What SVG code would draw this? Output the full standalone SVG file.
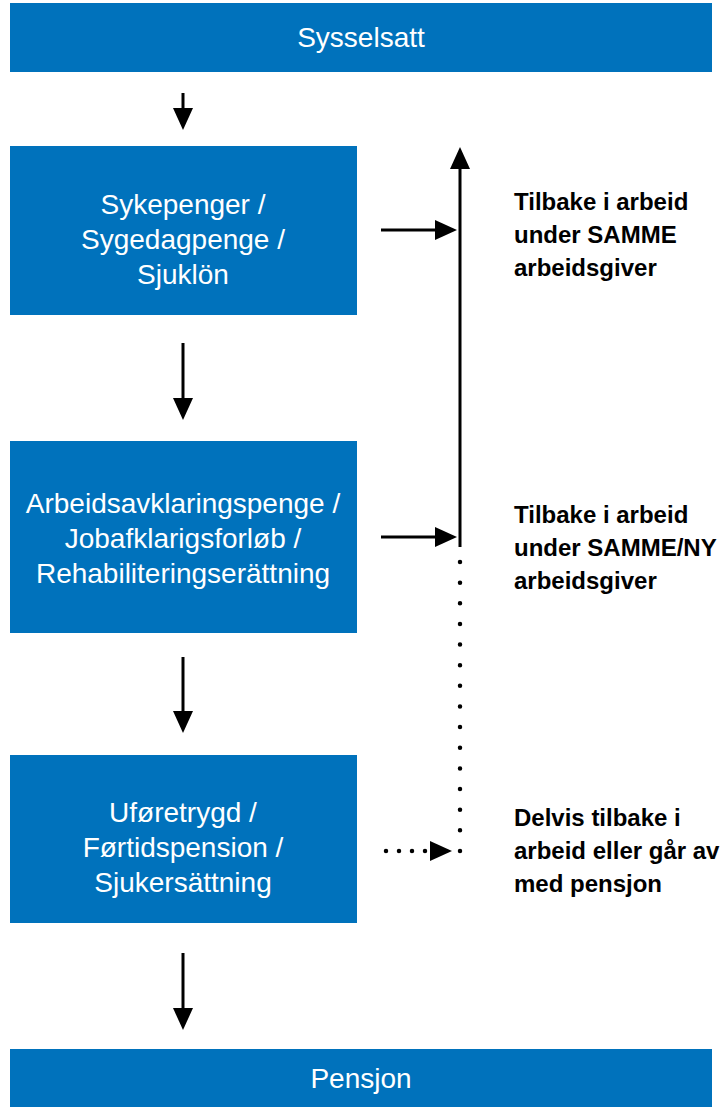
<svg xmlns="http://www.w3.org/2000/svg" width="723" height="1107" viewBox="0 0 723 1107">
<style>
.box{fill:#0072bc;}
.bt{font-family:"Liberation Sans",Arial,sans-serif;font-size:28px;fill:#ffffff;text-anchor:middle;}
.lt{font-family:"Liberation Sans",Arial,sans-serif;font-size:24px;font-weight:bold;fill:#000000;}
.ln{stroke:#000;stroke-width:3;fill:none;}
.dot{stroke:#000;stroke-width:4.5;stroke-linecap:round;fill:none;}
</style>
<defs>
<marker id="ah" viewBox="0 0 22 20" refX="14" refY="10" markerWidth="22" markerHeight="20" markerUnits="userSpaceOnUse" orient="auto">
<path d="M0,0 L22,10 L0,20 Z" fill="#000"/>
</marker>
</defs>
<g id="sysselsatt"><rect class="box" x="10" y="3" width="702" height="69"/><text class="bt" x="361" y="47">Sysselsatt</text></g>
<g id="sykepenger"><rect class="box" x="10" y="146" width="347" height="169"/><text class="bt" x="183" y="214">Sykepenger /</text><text class="bt" x="183" y="249">Sygedagpenge /</text><text class="bt" x="183" y="284">Sjuklön</text></g>
<g id="arbeidsavklaring"><rect class="box" x="10" y="441" width="347" height="192"/><text class="bt" x="183" y="513">Arbeidsavklaringspenge /</text><text class="bt" x="183" y="548">Jobafklarigsforløb /</text><text class="bt" x="183" y="583">Rehabiliteringserättning</text></g>
<g id="uforetrygd"><rect class="box" x="10" y="755" width="347" height="168"/><text class="bt" x="183" y="822">Uføretrygd /</text><text class="bt" x="183" y="857">Førtidspension /</text><text class="bt" x="183" y="892">Sjukersättning</text></g>
<g id="pensjon"><rect class="box" x="10" y="1049" width="702" height="58"/><text class="bt" x="361" y="1088">Pensjon</text></g>
<g id="label1"><text class="lt" x="514" y="210">Tilbake i arbeid</text><text class="lt" x="514" y="243">under SAMME</text><text class="lt" x="514" y="276">arbeidsgiver</text></g>
<g id="label2"><text class="lt" x="514" y="523">Tilbake i arbeid</text><text class="lt" x="514" y="556">under SAMME/NY</text><text class="lt" x="514" y="589">arbeidsgiver</text></g>
<g id="label3"><text class="lt" x="514" y="826">Delvis tilbake i</text><text class="lt" x="514" y="859">arbeid eller går av</text><text class="lt" x="514" y="892">med pensjon</text></g>
<g id="connectors">
<line class="ln" x1="183" y1="93" x2="183" y2="122" marker-end="url(#ah)"/>
<line class="ln" x1="183" y1="343" x2="183" y2="412" marker-end="url(#ah)"/>
<line class="ln" x1="183" y1="657" x2="183" y2="725" marker-end="url(#ah)"/>
<line class="ln" x1="183" y1="953" x2="183" y2="1022" marker-end="url(#ah)"/>
<line class="ln" x1="460" y1="547" x2="460" y2="155" marker-end="url(#ah)"/>
<line class="ln" x1="381" y1="230" x2="449" y2="230" marker-end="url(#ah)"/>
<line class="ln" x1="381" y1="537" x2="449" y2="537" marker-end="url(#ah)"/>
<line class="dot" x1="460" y1="562" x2="460" y2="852" stroke-dasharray="0 20.64"/>
<line class="dot" x1="386" y1="851" x2="427" y2="851" stroke-width="3.8" stroke-dasharray="0 13"/>
<path d="M430,841 L452,851 L430,861 Z" fill="#000"/>
</g>
</svg>
